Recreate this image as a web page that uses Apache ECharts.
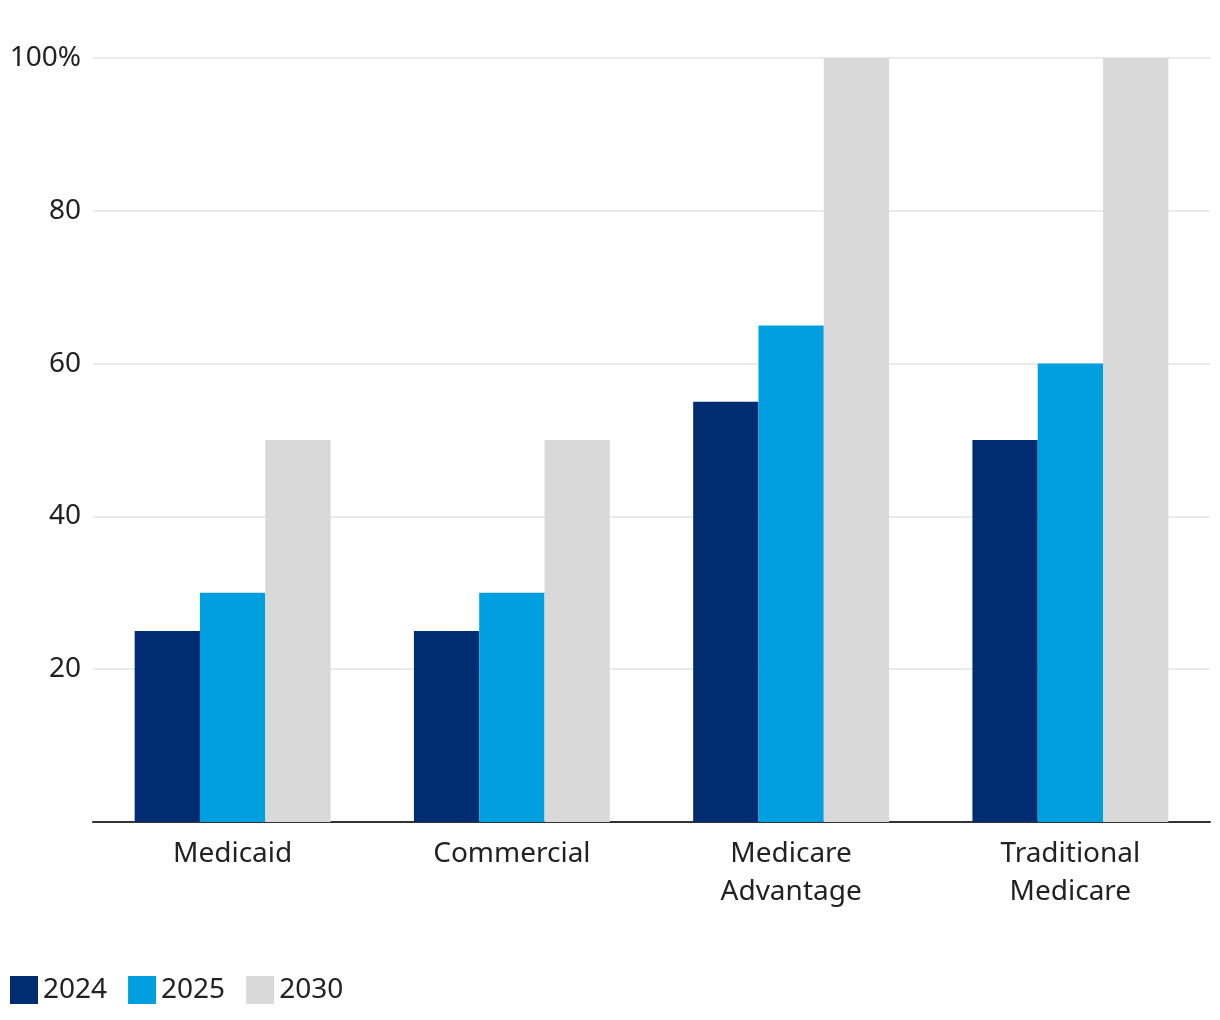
<!DOCTYPE html>
<html><head><meta charset="utf-8">
<script src="https://cdn.jsdelivr.net/npm/echarts@6/dist/echarts.min.js"></script>
<style>html,body{margin:0;padding:0;background:#fff}#c{width:1220px;height:1020px}</style>
</head><body><div id="c"></div>
<script>
const categories = ['Medicaid', 'Commercial', 'Medicare\nAdvantage', 'Traditional\nMedicare'];
const seriesNames = ['2024', '2025', '2030'];
const values2024 = [25, 25, 55, 50];
const values2025 = [30, 30, 65, 60];
const values2030 = [50, 50, 100, 100];
const colors = ['#002d72', '#009fdf', '#d9d9d9'];
const font = '"Noto Sans", "Open Sans", sans-serif';
const chart = echarts.init(document.getElementById('c'));
const data = [values2024, values2025, values2030];
chart.setOption({
  animation: false,
  grid: {left: 93, right: 10, top: 58, bottom: 198, containLabel: false},
  legend: {
    left: 10, bottom: 16, padding: 0, itemWidth: 28, itemHeight: 28, itemGap: 21, icon: 'rect',
    textStyle: {fontSize: 28, lineHeight: 28, color: '#222', fontFamily: font, padding: [0, 0, 0, 0]},
    data: seriesNames
  },
  xAxis: {
    type: 'category', data: categories,
    axisLine: {lineStyle: {color: '#333', width: 2}},
    axisTick: {show: false},
    axisLabel: {fontSize: 28, color: '#222', fontFamily: font, lineHeight: 38, margin: 13}
  },
  yAxis: {
    type: 'value', min: 0, max: 100, interval: 20,
    axisLine: {show: false}, axisTick: {show: false},
    splitLine: {lineStyle: {color: '#e3e3e3', width: 1.5}},
    axisLabel: {fontSize: 28, color: '#222', fontFamily: font, margin: 12,
      formatter: v => v === 0 ? '' : (v === 100 ? '100%' : String(v))}
  },
  series: seriesNames.map((n, i) => ({
    name: n, type: 'bar', data: data[i], barWidth: 65.3, barGap: '0%',
    itemStyle: {color: colors[i]}
  }))
});
</script></body></html>
